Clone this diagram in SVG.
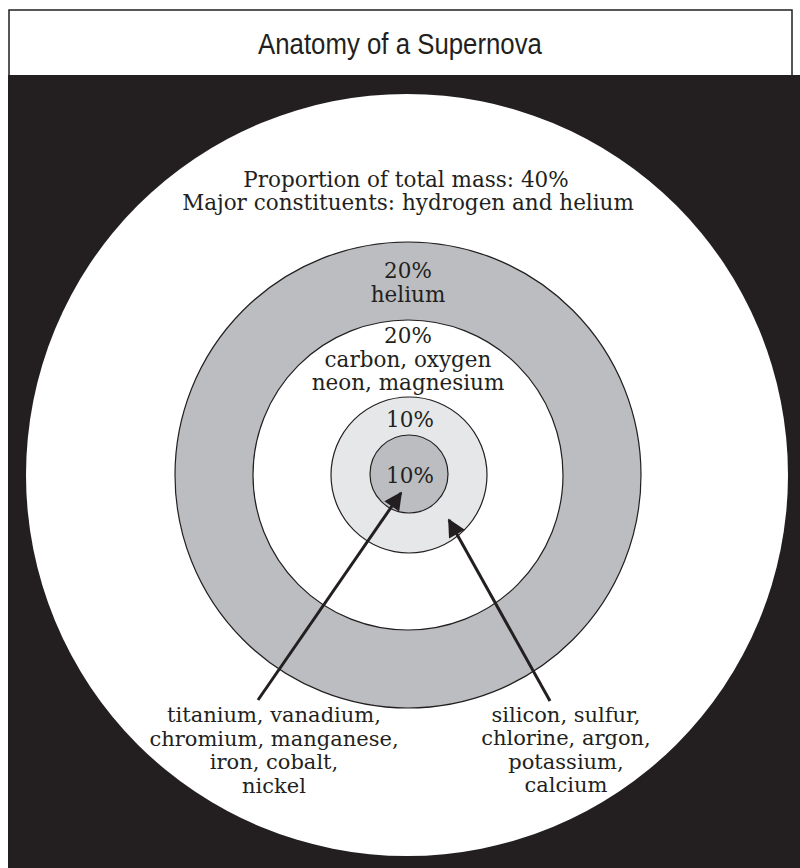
<svg xmlns="http://www.w3.org/2000/svg" width="800" height="868" viewBox="0 0 800 868">
<style>
.lbl{font-family:"DejaVu Serif","Liberation Serif",serif;font-size:21.5px;fill:#231f20;text-anchor:middle}
.sm{font-size:21px}
.title{font-family:"Liberation Sans",Arial,sans-serif;font-size:30px;fill:#231f20;text-anchor:middle}
.ring{stroke:#231f20;stroke-width:1.2}
.arrow{stroke:#231f20;stroke-width:3;fill:none}
</style>
<defs>
<marker id="ah" viewBox="0 0 10 10" refX="9" refY="5" markerWidth="7" markerHeight="6" orient="auto" markerUnits="strokeWidth">
<path d="M0,0 L10,5 L0,10 Z" fill="#231f20"/>
</marker>
</defs>
<rect x="0" y="0" width="800" height="868" fill="#ffffff"/>
<g id="title">
<rect x="9" y="10" width="783" height="66" fill="#ffffff" stroke="#231f20" stroke-width="1.5"/>
<text class="title" transform="translate(400,54) scale(0.86,1)">Anatomy of a Supernova</text>
</g>
<rect x="8" y="75" width="792" height="793" fill="#231f20"/>
<g id="outer-layer">
<circle cx="407" cy="475" r="381" fill="#ffffff"/>
<text class="lbl" x="406" y="187">Proportion of total mass: 40%</text>
<text class="lbl" x="408" y="210">Major constituents: hydrogen and helium</text>
</g>
<g id="helium-layer">
<circle class="ring" cx="408" cy="475" r="233" fill="#bcbdc0"/>
<text class="lbl" x="408" y="278">20%</text>
<text class="lbl" x="408" y="302">helium</text>
</g>
<g id="carbon-layer">
<circle class="ring" cx="408" cy="475" r="155" fill="#ffffff"/>
<text class="lbl" x="408" y="343">20%</text>
<text class="lbl" x="408" y="367">carbon, oxygen</text>
<text class="lbl" x="408" y="390">neon, magnesium</text>
</g>
<g id="silicon-layer">
<circle class="ring" cx="409" cy="475" r="78" fill="#e6e7e8"/>
<text class="lbl" x="410" y="427">10%</text>
</g>
<g id="iron-core">
<circle class="ring" cx="409" cy="474" r="39" fill="#bcbdc0"/>
<text class="lbl" x="410" y="483">10%</text>
</g>
<g id="connectors">
<line class="arrow" x1="258" y1="700" x2="401" y2="493" marker-end="url(#ah)"/>
<line class="arrow" x1="550" y1="701" x2="449" y2="520" marker-end="url(#ah)"/>
</g>
<g id="iron-label">
<text class="lbl sm" x="274" y="722">titanium, vanadium,</text>
<text class="lbl sm" x="274" y="745.5">chromium, manganese,</text>
<text class="lbl sm" x="274" y="769">iron, cobalt,</text>
<text class="lbl sm" x="274" y="792.5">nickel</text>
</g>
<g id="silicon-label">
<text class="lbl sm" x="566" y="721.5">silicon, sulfur,</text>
<text class="lbl sm" x="566" y="745">chlorine, argon,</text>
<text class="lbl sm" x="566" y="768.5">potassium,</text>
<text class="lbl sm" x="566" y="792">calcium</text>
</g>
</svg>
